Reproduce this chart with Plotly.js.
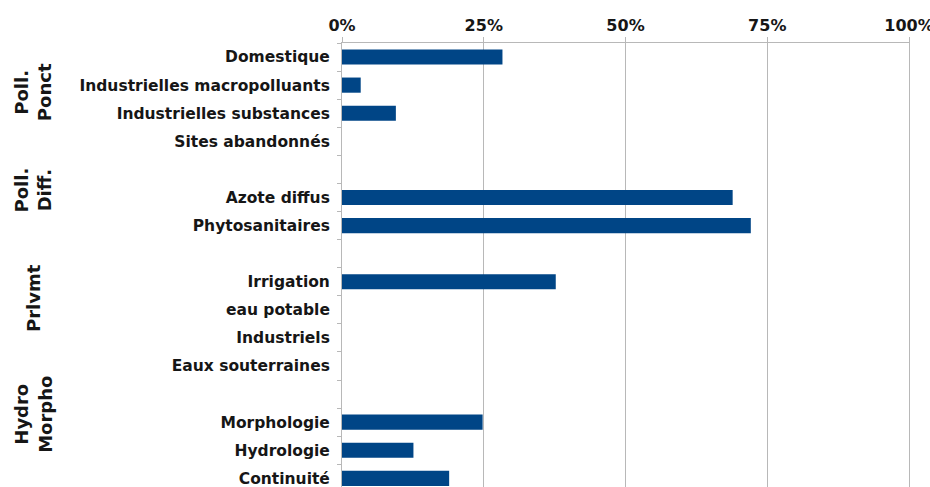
<!DOCTYPE html>
<html>
<head>
<meta charset="utf-8">
<script src="https://cdn.plot.ly/plotly-3.0.1.min.js"></script>
<style>
html,body{margin:0;padding:0;background:#fff;}
#chart{width:930px;height:487px;}
</style>
</head>
<body>
<div id="chart"></div>
<script>
// Categories (top to bottom); blank strings are spacer rows between groups
const categories = [
  "Domestique", "Industrielles macropolluants", "Industrielles substances", "Sites abandonnés",
  " ",
  "Azote diffus", "Phytosanitaires",
  "  ",
  "Irrigation", "eau potable", "Industriels", "Eaux souterraines",
  "   ",
  "Morphologie", "Hydrologie", "Continuité"
];
// Share of water bodies (%)
const values = [
  28.3, 3.3, 9.5, 0,
  0,
  68.9, 72.1,
  0,
  37.7, 0, 0, 0,
  0,
  24.8, 12.6, 18.9
];
const xTickValues = [0, 25, 50, 75, 100];
const xTickLabels = ["0%", "25%", "50%", "75%", "100%"];
const groupLabels = ["Poll.<br>Ponct", "Poll.<br>Diff.", "Prlvmt", "Hydro<br>Morpho"];
const groupCenters = [1.25, 4.75, 8.58, 12.74];

const M = {l: 342, r: 21, t: 43, b: 0};
const plotW = 930 - M.l - M.r;
const textColor = "#161616";
const gridColor = "#b8b8b8";

const trace = {
  type: "bar",
  orientation: "h",
  x: values,
  y: categories,
  marker: {color: "#004586", line: {width: 0}},
  hoverinfo: "x+y"
};

const annotations = groupLabels.map((t, i) => ({
  text: t,
  xref: "paper",
  yref: "y",
  x: (33 - M.l) / plotW,
  y: groupCenters[i],
  xanchor: "center",
  yanchor: "middle",
  textangle: -90,
  align: "center",
  showarrow: false,
  font: {family: "DejaVu Sans", size: 18, weight: "bold", color: textColor}
}));

const layout = {
  width: 930,
  height: 487,
  margin: M,
  paper_bgcolor: "#ffffff",
  plot_bgcolor: "#ffffff",
  showlegend: false,
  bargap: 0.46,
  xaxis: {
    side: "top",
    range: [0, 100],
    tickvals: xTickValues,
    ticktext: xTickLabels,
    showgrid: true,
    gridcolor: gridColor,
    gridwidth: 1,
    zeroline: false,
    showline: true,
    linecolor: gridColor,
    linewidth: 1,
    ticks: "outside",
    ticklen: 5,
    tickcolor: gridColor,
    ticklabelstandoff: 0,
    ticklabeloverflow: "allow",
    tickfont: {family: "DejaVu Sans", size: 16, weight: "bold", color: textColor},
    fixedrange: true
  },
  yaxis: {
    type: "category",
    categoryorder: "array",
    categoryarray: categories,
    range: [15.31, -0.5],
    autorange: false,
    showgrid: false,
    zeroline: false,
    showline: true,
    mirror: true,
    linecolor: gridColor,
    linewidth: 1,
    ticks: "outside",
    tickson: "boundaries",
    ticklen: 4,
    tickcolor: gridColor,
    ticklabelstandoff: 8,
    tickfont: {family: "DejaVu Sans", size: 15.5, weight: "bold", color: textColor},
    fixedrange: true
  },
  annotations: annotations
};

Plotly.newPlot("chart", [trace], layout, {displayModeBar: false, staticPlot: true});
</script>
</body>
</html>
